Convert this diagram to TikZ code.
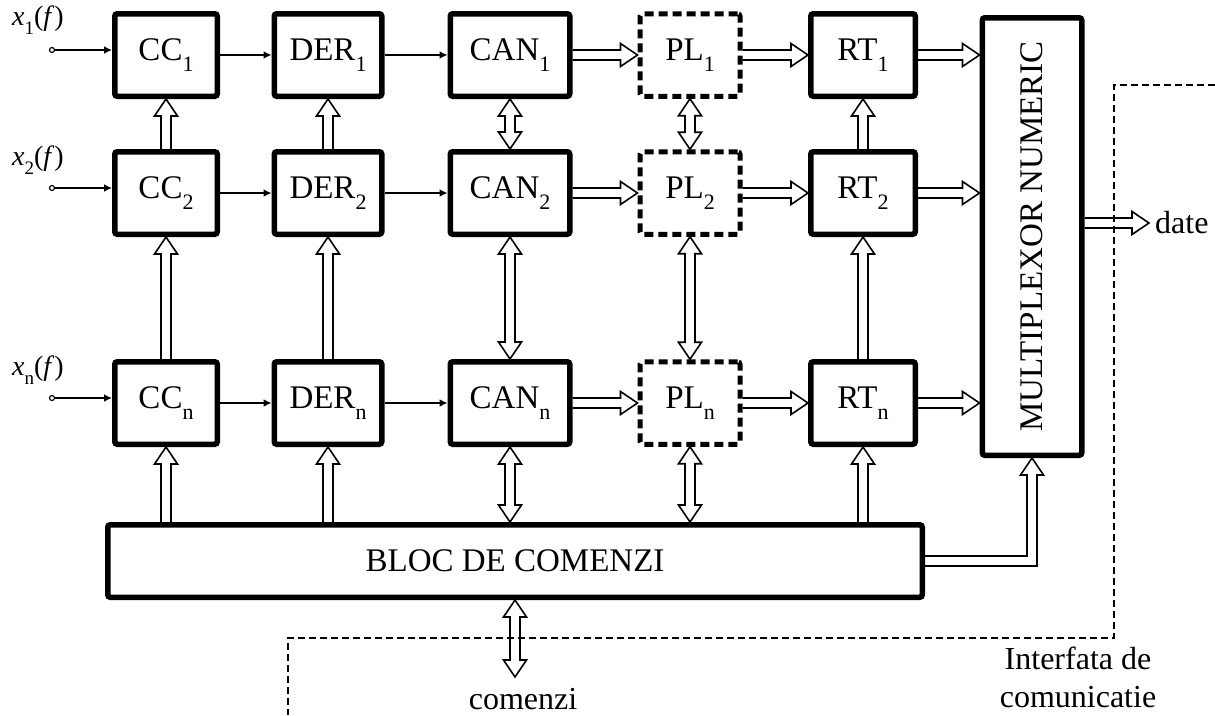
\documentclass[tikz,border=0pt]{standalone}
\usepackage{fontspec}
\setmainfont{Liberation Serif}
\usetikzlibrary{calc,arrows.meta}

% lowered index set in the text font
\newcommand\lowidx[2][22]{\raisebox{-0.32em}{\fontsize{#1}{#1}\selectfont #2}}

\tikzset{
  every node/.style={inner sep=0pt},
  blk/.style={draw, line width=5.5pt, rounded corners=2.5pt,
    minimum height=82.5pt, font=\fontsize{33}{35}\selectfont},
  dblk/.style={blk, line width=5pt, dash pattern=on 9pt off 5pt},
  wire/.style={line width=1.6pt, -{Latex[length=8pt,width=8pt]}},
  inlbl/.style={font=\fontsize{28}{28}\selectfont},
  txt/.style={font=\fontsize{32}{38}\selectfont},
  bus/.style={line width=1.6pt, line join=miter},
  % outlined bus arrow, one head
  hollow/.style={to path={
     let \p1=(\tikztostart), \p2=(\tikztotarget),
         \n1={atan2(\y2-\y1,\x2-\x1)}, \n2={veclen(\x2-\x1,\y2-\y1)} in
     ([shift={(\p1)},rotate=\n1]0,5)
     -- ([shift={(\p1)},rotate=\n1]\n2-17,5)
     -- ([shift={(\p1)},rotate=\n1]\n2-17,11.5)
     -- ([shift={(\p1)},rotate=\n1]\n2,0)
     -- ([shift={(\p1)},rotate=\n1]\n2-17,-11.5)
     -- ([shift={(\p1)},rotate=\n1]\n2-17,-5)
     -- ([shift={(\p1)},rotate=\n1]0,-5)}},
  % outlined bus arrow, two heads
  dhollow/.style={to path={
     let \p1=(\tikztostart), \p2=(\tikztotarget),
         \n1={atan2(\y2-\y1,\x2-\x1)}, \n2={veclen(\x2-\x1,\y2-\y1)} in
     ([shift={(\p1)},rotate=\n1]17,5)
     -- ([shift={(\p1)},rotate=\n1]\n2-17,5)
     -- ([shift={(\p1)},rotate=\n1]\n2-17,11.5)
     -- ([shift={(\p1)},rotate=\n1]\n2,0)
     -- ([shift={(\p1)},rotate=\n1]\n2-17,-11.5)
     -- ([shift={(\p1)},rotate=\n1]\n2-17,-5)
     -- ([shift={(\p1)},rotate=\n1]17,-5)
     -- ([shift={(\p1)},rotate=\n1]17,-11.5)
     -- ([shift={(\p1)},rotate=\n1]0,0)
     -- ([shift={(\p1)},rotate=\n1]17,11.5)
     -- cycle}},
  iface/.style={line width=1.6pt, dash pattern=on 7pt off 4pt}
}

\begin{document}
\begin{tikzpicture}[x=1pt,y=-1pt]
\fill[white] (0,0) rectangle (1215,715);
\useasboundingbox (0,0) rectangle (1215,715);

% channel blocks
\foreach \r/\y in {1/55, 2/193, n/403}{
  \node[blk, minimum width=102.5pt] (cc\r)  at (166,\y) {CC\lowidx{\r}};
  \node[blk, minimum width=107.5pt] (der\r) at (328,\y) {DER\lowidx{\r}};
  \node[blk, minimum width=119.5pt] (can\r) at (510,\y) {CAN\lowidx{\r}};
  \node[dblk, minimum width=100pt]  (pl\r)  at (690,\y) {PL\lowidx{\r}};
  \node[blk, minimum width=104.5pt] (rt\r)  at (863,\y) {RT\lowidx{\r}};
}

\node[blk, minimum width=99.5pt, minimum height=437.5pt,
  label={[rotate=90, font=\fontsize{33}{35}\selectfont]center:MULTIPLEXOR NUMERIC}]
  (mux) at (1032,236.5) {};
\node[blk, minimum width=814.5pt, minimum height=72.5pt] (bloc) at (515,561)
  {BLOC DE COMENZI};

% analog inputs
\foreach \r/\y/\ly in {1/50/20, 2/188/160, n/398/370}{
  \coordinate (t\r) at (52,\y);
  \draw[line width=1.2pt] (t\r) circle (2.5pt);
  \node[inlbl] (x\r) at (38,\ly) {\textit{x}\lowidx[19]{\r}(\textit{f})};
  \draw[wire, shorten <=2.5pt] (t\r) -- (t\r -| cc\r.west);
}

% signal chain of each channel
\foreach \r in {1,2,n}{
  \draw[wire] (cc\r.east) -- (der\r.west);
  \draw[wire] (der\r.east) -- (can\r.west);
  \draw[bus] (can\r.east) to[hollow] (pl\r.west);
  \draw[bus] (pl\r.east) to[hollow] (rt\r.west);
  \draw[bus] (rt\r.east) to[hollow] (mux.west |- rt\r.east);
}

% vertical links between channels
\foreach \c in {cc,der,rt}{
  \draw[bus] (\c2.north) to[hollow] (\c1.south);
  \draw[bus] (\c n.north) to[hollow] (\c2.south);
  \draw[bus] (bloc.north -| \c n.south) to[hollow] (\c n.south);
}
\foreach \c in {can,pl}{
  \draw[bus] (\c1.south) to[dhollow] (\c2.north);
  \draw[bus] (\c2.south) to[dhollow] (\c n.north);
  \draw[bus] (\c n.south) to[dhollow] (bloc.north -| \c n.south);
}

% command path to the multiplexer
\coordinate (mc) at (mux.south |- bloc.east);
\draw[bus]
  ($(bloc.east)+(0,-5)$) -- ($(mc)+(-5,-5)$) -- ($(mux.south)+(-5,17)$)
  -- ($(mux.south)+(-11.5,17)$) -- (mux.south) -- ($(mux.south)+(11.5,17)$)
  -- ($(mux.south)+(5,17)$) -- ($(mc)+(5,5)$) -- ($(bloc.east)+(0,5)$);

% data output
\node[txt, anchor=west, inner xsep=6pt] (date) at (1149,223) {date};
\draw[bus] (mux.east |- date.west) to[hollow] (date.west);

% external commands
\coordinate (cmz) at (515,677);
\draw[bus] (bloc.south) to[dhollow] (cmz);
\node[txt] (cmzt) at (523,699) {comenzi};

% communication interface boundary
\coordinate (d0) at (1215,85);
\coordinate (d1) at (1114,85);
\coordinate (d2) at (1114,638);
\coordinate (d3) at (288,638);
\coordinate (d4) at (288,715);
\draw[iface] (d0) -- (d1) -- (d2) -- (d3) -- (d4);
\node[txt, align=center] (ifc) at (1078,677) {Interfata de\\comunicatie};
\end{tikzpicture}
\end{document}
